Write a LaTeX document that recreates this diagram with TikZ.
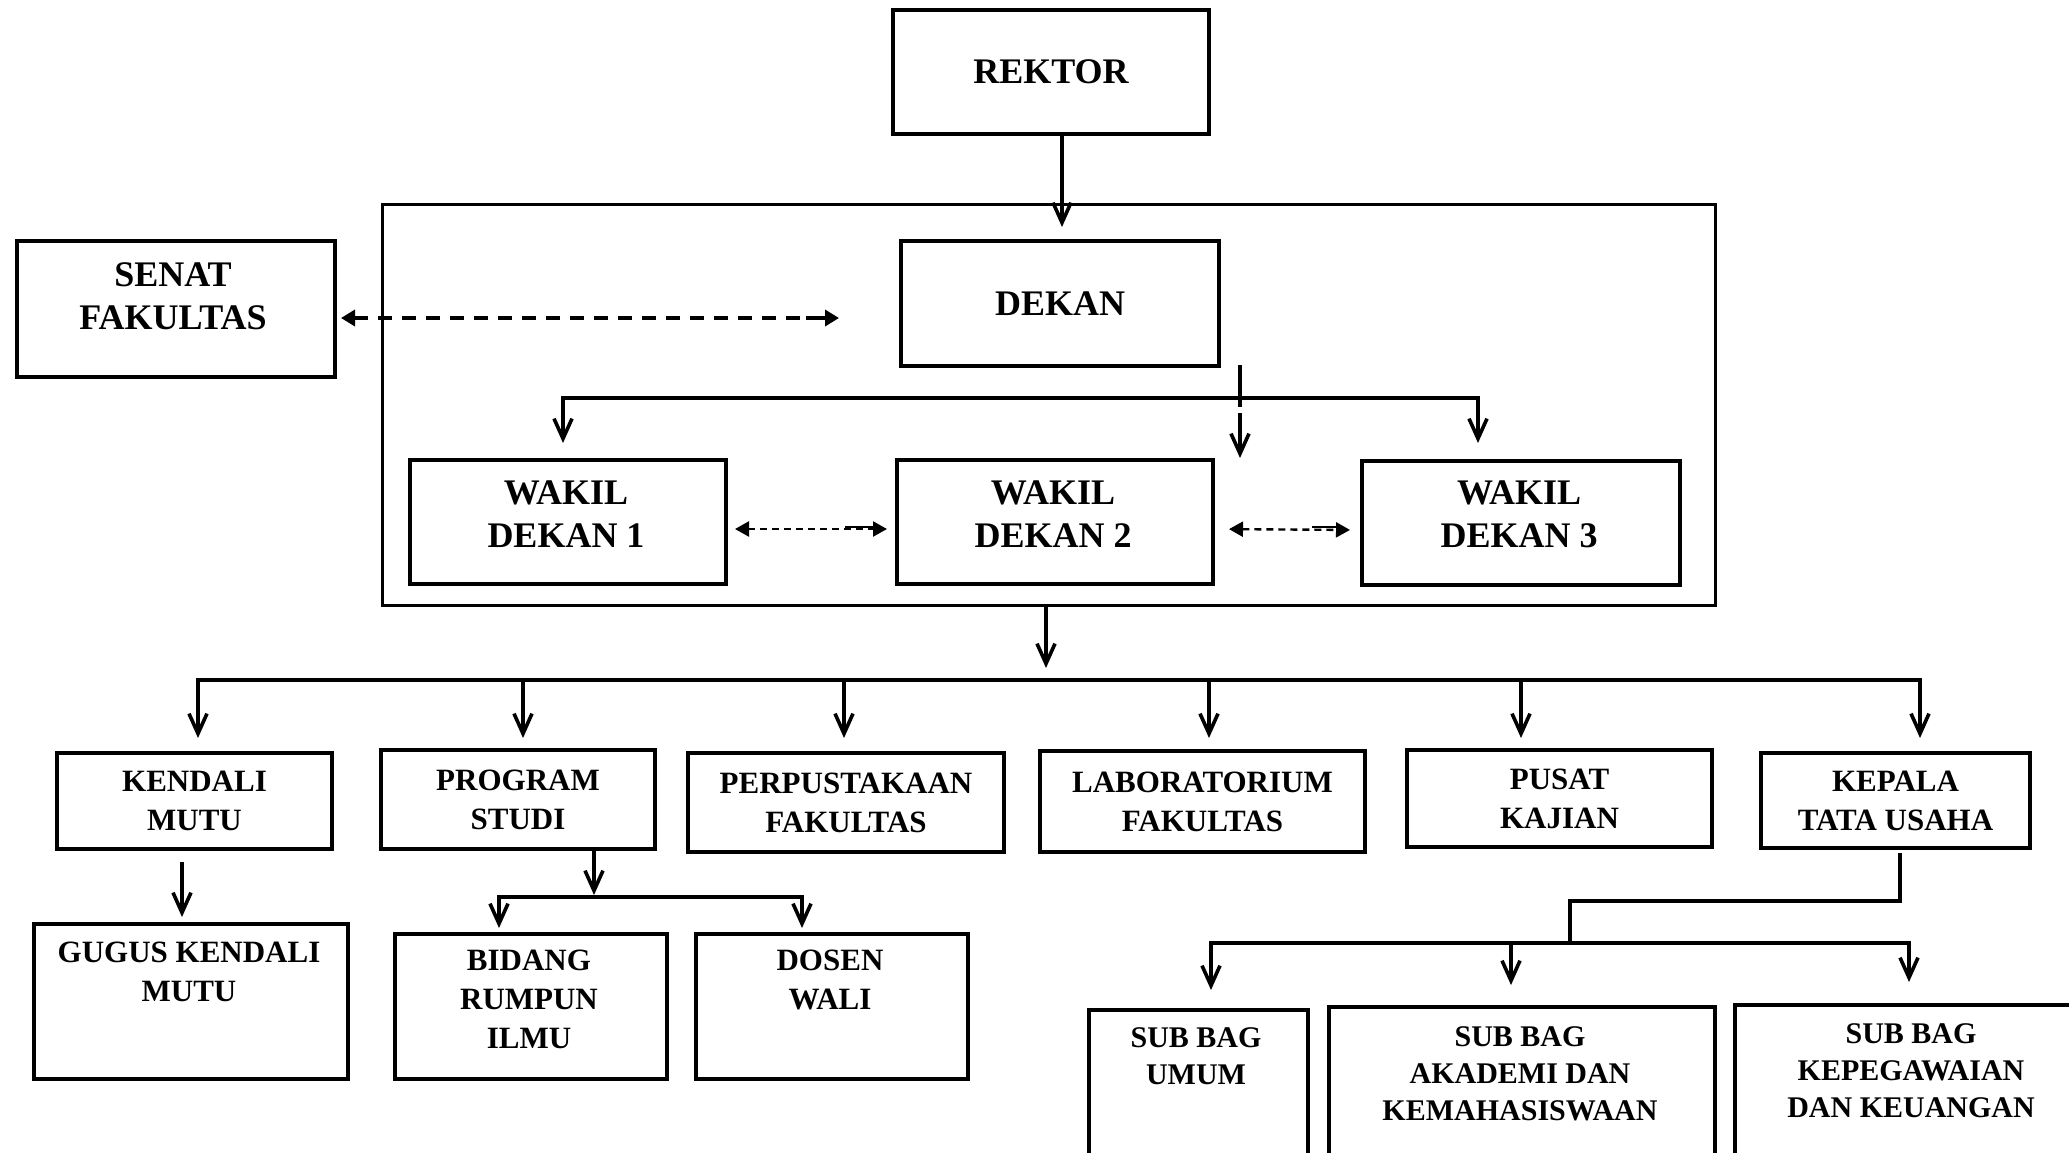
\documentclass[tikz,border=0pt]{standalone}
\usepackage{fontspec}
\setmainfont{Liberation Serif}
\usetikzlibrary{arrows.meta,calc}

\begin{document}
\begin{tikzpicture}[x=1pt,y=-1pt,
  box/.style={draw,line width=4pt,inner sep=0pt,anchor=north west},
  big/.style={font=\fontsize{36}{43}\selectfont\bfseries,align=center},
  mid/.style={font=\fontsize{31}{39}\selectfont\bfseries,align=center},
  small/.style={font=\fontsize{30}{37}\selectfont\bfseries,align=center},
  txt/.style={inner sep=0pt},
  wire/.style={line width=3.6pt,line cap=rect},
  bus/.style={line width=4.4pt,line cap=rect},
  conn/.style={line width=3.6pt,-{Straight Barb[length=20pt,width=18pt]}},
  slink/.style={line width=3.5pt,dash pattern=on 14pt off 10pt,
    {Triangle[length=14pt,width=16pt]}-{Triangle[length=14pt,width=16pt]}},
  wlink/.style={line width=2.4pt,dash pattern=on 7pt off 5pt,
    {Triangle[length=14pt,width=15pt]}-{Triangle[length=14pt,width=15pt]}},
]
\useasboundingbox (0,0) rectangle (2069,1152);
\clip (0,0) rectangle (2069,1152);

% top level
\node[box,big,minimum width=316pt,minimum height=124pt] (rektor) at (891,8) {REKTOR};
\node[box,line width=3.4pt,minimum width=1333pt,minimum height=401pt] (fak) at (381,203) {};
\node[box,big,minimum width=318pt,minimum height=125pt] (dekan) at (899,239) {DEKAN};
\node[box,minimum width=318pt,minimum height=136pt] (senat) at (15,239) {};
\node[txt,big] (senatT) at (173,296) {SENAT\\FAKULTAS};

\node[box,minimum width=316pt,minimum height=124pt] (wd1) at (408,458) {};
\node[txt,big] (wd1T) at (566,514) {WAKIL\\DEKAN 1};
\node[box,minimum width=316pt,minimum height=124pt] (wd2) at (895,458) {};
\node[txt,big] (wd2T) at (1053,514) {WAKIL\\DEKAN 2};
\node[box,minimum width=318pt,minimum height=124pt] (wd3) at (1360,459) {};
\node[txt,big] (wd3T) at (1519,514) {WAKIL\\DEKAN 3};

% second level
\node[box,mid,minimum width=275pt,minimum height=96pt] (kendali) at (55,751) {KENDALI\\MUTU};
\node[box,mid,minimum width=274pt,minimum height=99pt] (prodi) at (379,748) {PROGRAM\\STUDI};
\node[box,mid,minimum width=316pt,minimum height=99pt] (pustaka) at (686,751) {PERPUSTAKAAN\\FAKULTAS};
\node[box,mid,minimum width=325pt,minimum height=101pt] (lab) at (1038,749) {LABORATORIUM\\FAKULTAS};
\node[box,mid,minimum width=305pt,minimum height=97pt] (pusat) at (1405,748) {PUSAT\\KAJIAN};
\node[box,mid,minimum width=269pt,minimum height=95pt] (ktu) at (1759,751) {KEPALA\\TATA USAHA};

% third level
\node[box,minimum width=314pt,minimum height=155pt] (gugus) at (32,922) {};
\node[txt,mid] (gugusT) at (189,972) {GUGUS KENDALI\\MUTU};
\node[box,minimum width=272pt,minimum height=145pt] (bidang) at (393,932) {};
\node[txt,mid] (bidangT) at (529,999) {BIDANG\\RUMPUN\\ILMU};
\node[box,minimum width=272pt,minimum height=145pt] (dosen) at (694,932) {};
\node[txt,mid] (dosenT) at (830,980) {DOSEN\\WALI};
\node[box,minimum width=219pt,minimum height=200pt] (umum) at (1087,1008) {};
\node[txt,small] (umumT) at (1196,1056) {SUB BAG\\UMUM};
\node[box,minimum width=386pt,minimum height=200pt] (akad) at (1327,1005) {};
\node[txt,small] (akadT) at (1520,1074) {SUB BAG\\AKADEMI DAN\\KEMAHASISWAAN};
\node[box,minimum width=400pt,minimum height=200pt] (kepeg) at (1733,1003) {};
\node[txt,small] (kepegT) at (1911,1071) {SUB BAG\\KEPEGAWAIAN\\DAN KEUANGAN};

% rektor to dekan
\coordinate (rk) at (1062,227);
\draw[conn] (rektor.south -| rk) -- (rk);

% senat <-> dekan
\coordinate (sd) at (839,318);
\draw[slink,shorten <=4pt] (senat.east |- sd) -- (sd);
\draw[line width=3.5pt] (806,318) -- (826,318);

% dekan to the vice deans
\coordinate (dk) at (1240,367);
\coordinate (dkA) at (1240,405);
\coordinate (dkB) at (1240,413);
\coordinate (dkT) at (1240,458);
\coordinate (bL) at (563,398);
\coordinate (bR) at (1478,398);
\coordinate (tL) at (563,443);
\coordinate (tR) at (1478,443);
\draw[wire] (dk) -- (dkA);
\draw[conn] (dkB) -- (dkT);
\draw[wire] (bL) -- (bR);
\draw[conn] (bL) -- (tL);
\draw[conn] (bR) -- (tR);

% links between vice deans
\draw[wlink,shorten <=7pt,shorten >=8pt] ([yshift=-7pt]wd1.east) -- ([yshift=-7pt]wd2.west);
\draw[line width=2.8pt] (845,527) -- (876,527);
\draw[wlink,shorten <=14pt,shorten >=10pt] ([yshift=-7pt]wd2.east) -- ([yshift=-7pt]wd3.west);
\draw[line width=2.8pt] (1312,527) -- (1340,527);

% faculty to units
\coordinate (ft) at (1046,668);
\draw[conn] (fak.south -| ft) -- (ft);
\coordinate (u1) at (198,680);
\coordinate (u6) at (1920,680);
\draw[bus] (u1) -- (u6);
\foreach \x in {198,523,844,1209,1521,1920}
  \draw[conn] (\x,680) -- (\x,738);

% kendali mutu to gugus
\coordinate (gk) at (182,917);
\draw[conn,shorten <=11pt] (kendali.south -| gk) -- (gk);

% program studi branch
\coordinate (pj) at (594,895);
\coordinate (pL) at (499,897);
\coordinate (pR) at (802,897);
\draw[conn] (prodi.south -| pj) -- (pj);
\draw[bus] (pL) -- (pR);
\draw[conn] (pL) -- (499,928);
\draw[conn] (pR) -- (802,928);

% tata usaha branch
\coordinate (k1) at (1900,901);
\coordinate (k2) at (1570,901);
\coordinate (k3) at (1570,943);
\draw[wire,shorten <=5pt] (ktu.south -| k1) -- (k1) -- (k2) -- (k3);
\coordinate (sL) at (1211,943);
\coordinate (sR) at (1909,943);
\draw[bus] (sL) -- (sR);
\draw[conn] (sL) -- (1211,990);
\draw[conn] (1511,943) -- (1511,985);
\draw[conn] (sR) -- (1909,982);
\end{tikzpicture}
\end{document}
